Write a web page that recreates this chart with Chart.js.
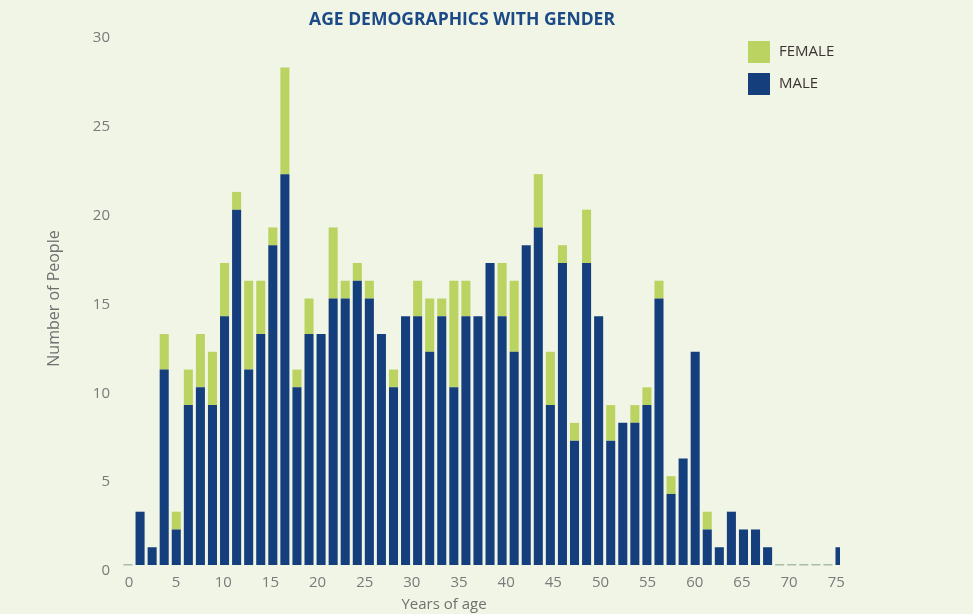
<!DOCTYPE html>
<html>
<head>
<meta charset="utf-8">
<script src="https://cdn.jsdelivr.net/npm/chart.js@4.4.1/dist/chart.umd.min.js"></script>
<style>
  html, body { margin: 0; padding: 0; background: #f1f5e6; }
  #wrap { width: 973px; height: 614px; position: relative; }
</style>
</head>
<body>
<div id="wrap"><canvas id="c"></canvas></div>
<script>
// ---- data ----
const chartTitle = "AGE DEMOGRAPHICS WITH GENDER";
const xAxisTitle = "Years of age";
const yAxisTitle = "Number of People";
const ageGroups = ["0","1","2","3","4","5","6","7","8","9","10","11","12","13","14","15","16","17","18","19",
                   "20","21","22","23","24","25","26","27","28","29","30","31","32","33","34","35","36","37","38","39",
                   "40","41","42","43","44","45","46","47","48","49","50","51","52","53","54","55","56","57","58","59"];
const maleCounts = [0,3,1,11,2,9,10,9,14,20,11,13,18,22,10,13,13,15,15,16,
                    15,13,10,14,14,12,14,10,14,14,17,14,12,18,19,9,17,7,17,14,
                    7,8,8,9,15,4,6,12,2,1,3,2,2,1,0,0,0,0,0,1];
const femaleCounts = [0,0,0,2,1,2,3,3,3,1,5,3,1,6,1,2,0,4,1,1,
                      1,0,1,0,2,3,1,6,2,0,0,3,4,0,3,3,1,1,3,0,
                      2,0,1,1,1,1,0,0,1,0,0,0,0,0,0,0,0,0,0,0];
const xTickLabels = [0,5,10,15,20,25,30,35,40,45,50,55,60,65,70,75];
const yTickLabels = [0,5,10,15,20,25,30];

// ---- styles ----
const MALE_COLOR = '#143f7c';
const FEMALE_COLOR = '#bbd361';
const ZERO_COLOR = '#a9bca9';
const TICK_COLOR = '#7a7a7a';
const FONT = "'Open Sans', 'Noto Sans', sans-serif";

const decor = {
  id: 'decor',
  afterDatasetsDraw(chart) {
    const ctx = chart.ctx;
    const ys = chart.scales.y;
    const meta = chart.getDatasetMeta(0);
    ctx.save();
    ctx.fillStyle = ZERO_COLOR;
    ageGroups.forEach((g, i) => {
      if (maleCounts[i] + femaleCounts[i] === 0) {
        const el = meta.data[i];
        ctx.fillRect(el.x - el.width / 2, ys.getPixelForValue(0) - 1, el.width, 1.5);
      }
    });
    ctx.restore();
  },
  afterDraw(chart) {
    const ctx = chart.ctx;
    ctx.save();
    // title
    ctx.fillStyle = '#1b4a86';
    ctx.font = "bold 17.5px " + FONT;
    ctx.textAlign = 'center';
    ctx.textBaseline = 'middle';
    ctx.fillText(chartTitle, 462, 20);
    // x axis title
    ctx.fillStyle = '#707070';
    ctx.font = "15px " + FONT;
    ctx.fillText(xAxisTitle, 444, 605);
    // legend (reverse order: FEMALE first)
    const items = chart.data.datasets.slice().reverse();
    ctx.textAlign = 'left';
    ctx.font = "15px " + FONT;
    items.forEach((ds, k) => {
      const top = 41 + k * 32;
      ctx.fillStyle = ds.backgroundColor;
      ctx.fillRect(748, top, 22, 22);
      ctx.fillStyle = '#3b3232';
      ctx.fillText(ds.label, 779, top + 11);
    });
    ctx.restore();
  }
};

new Chart(document.getElementById('c'), {
  type: 'bar',
  data: {
    labels: ageGroups,
    datasets: [
      { label: 'MALE', data: maleCounts, backgroundColor: MALE_COLOR, borderWidth: 0 },
      { label: 'FEMALE', data: femaleCounts, backgroundColor: FEMALE_COLOR, borderWidth: 0 }
    ]
  },
  options: {
    responsive: true,
    maintainAspectRatio: false,
    animation: false,
    categoryPercentage: 1,
    barPercentage: 0.75,
    layout: { padding: { left: 0, right: 133, top: 32, bottom: 0 } },
    plugins: {
      legend: { display: false },
      title: { display: false },
      tooltip: { enabled: false }
    },
    scales: {
      x: {
        type: 'category',
        stacked: true,
        offset: false,
        display: false,
        grid: { display: false, offset: false }
      },
      ages: {
        type: 'linear',
        position: 'bottom',
        min: -0.1,
        max: 75.4,
        offset: false,
        grid: { display: false, drawTicks: false, offset: false },
        border: { display: false },
        afterBuildTicks(scale) { scale.ticks = xTickLabels.map(v => ({ value: v })); },
        afterFit(scale) { scale.height = 49; },
        ticks: { color: TICK_COLOR, font: { family: FONT, size: 15 }, padding: 9, maxRotation: 0, autoSkip: false }
      },
      y: {
        stacked: true,
        min: 0,
        max: 30,
        grid: { display: false, drawTicks: false },
        border: { display: false },
        afterBuildTicks(scale) { scale.ticks = yTickLabels.map(v => ({ value: v })); },
        afterFit(scale) { scale.width = 128; },
        ticks: { color: TICK_COLOR, font: { family: FONT, size: 15 }, padding: 18, labelOffset: 6 },
        title: {
          display: true,
          text: yAxisTitle,
          color: '#707070',
          font: { family: FONT, size: 16 },
          padding: { top: 45, bottom: 0 }
        }
      }
    }
  },
  plugins: [decor]
});
</script>
</body>
</html>
